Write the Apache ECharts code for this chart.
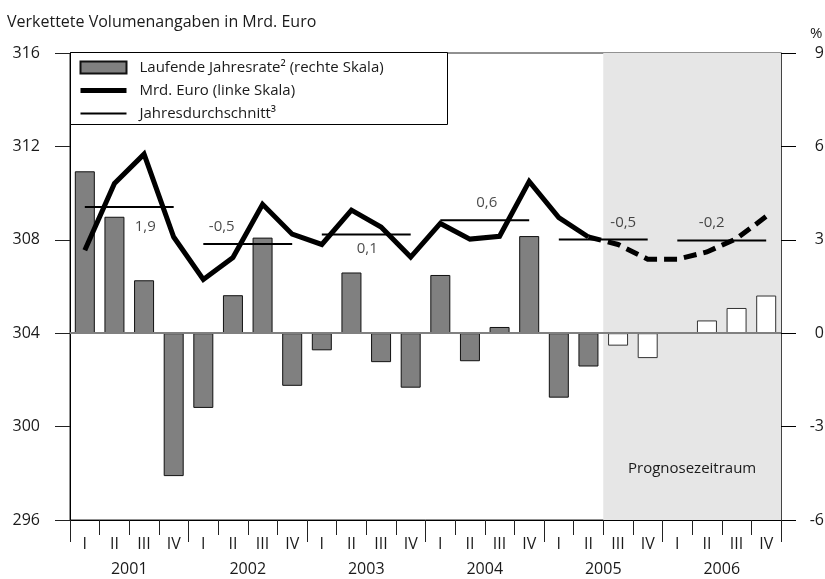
<!DOCTYPE html>
<html>
<head>
<meta charset="utf-8">
<script src="https://cdn.jsdelivr.net/npm/echarts@6/dist/echarts.min.js"></script>
<style>
  html, body { margin: 0; padding: 0; background: #fff; overflow: hidden; }
  #chart { width: 825px; height: 579px; }
</style>
</head>
<body>
<div id="chart"></div>
<script>
  // Daten
  const years = ['2001', '2002', '2003', '2004', '2005', '2006'];
  const quarters = ['I', 'II', 'III', 'IV'];
  // Laufende Jahresrate in % (rechte Skala), ab 2005 III Prognose
  const rate = [5.2, 3.74, 1.70, -4.59, -2.40, 1.22, 3.07, -1.69, -0.55, 1.95, -0.93, -1.75,
                1.87, -0.90, 0.20, 3.12, -2.07, -1.07, -0.40, -0.80, null, 0.41, 0.81, 1.21];
  // Mrd. Euro (linke Skala)
  const euro = [307.55, 310.41, 311.67, 308.12, 306.30, 307.24, 309.52, 308.24, 307.80, 309.27, 308.55, 307.26,
                308.70, 308.03, 308.15, 310.50, 308.95, 308.12, 307.80, 307.17, 307.17, 307.48, 308.05, 309.00];
  // Jahresdurchschnitt (Niveau, linke Skala) und Jahresrate als Beschriftung
  const yearAvg = [309.41, 307.82, 308.23, 308.84, 308.01, 307.97];
  const yearAvgText = ['1,9', '-0,5', '0,1', '0,6', '-0,5', '-0,2'];
  const forecastStart = 18; // 2005 III
  const leftTicks = { min: 296, max: 316, interval: 4 };
  const rightTicks = { min: -6, max: 9, interval: 3 };

  // Lage der Beschriftungen der Jahresdurchschnitte (px relativ zur Linienmitte)
  const avgLabelOffset = [[16, 20], [-26, -17], [1, 14], [2, -17], [20, -17], [-10, -18]];

  const categories = [];
  years.forEach(y => quarters.forEach(q => categories.push(q)));

  const FONT = 'Open Sans';
  const TXT = '#1a1a1a';

  const avgSegments = [];
  yearAvg.forEach((v, i) => {
    avgSegments.push([i * 4 + 0.5, v], [i * 4 + 3.5, v], [i * 4 + 4, '-']);
  });

  const myChart = echarts.init(document.getElementById('chart'));
  const option = {
    animation: false,
    textStyle: { fontFamily: FONT },
    title: {
      text: 'Verkettete Volumenangaben in Mrd. Euro',
      left: 2, top: 9,
      textStyle: { fontFamily: FONT, fontSize: 16, fontWeight: 'normal', color: TXT }
    },
    graphic: [
      {
        type: 'rect', z: 10,
        shape: { x: 70.5, y: 52.5, width: 377, height: 72 },
        style: { fill: '#fff', stroke: '#000', lineWidth: 1 }
      },
      {
        type: 'text', left: 810, top: 26, z: 10,
        style: { text: '%', fontFamily: FONT, fontSize: 15, fill: TXT }
      }
    ],
    legend: {
      orient: 'vertical',
      left: 73, top: 55, z: 20,
      itemWidth: 46, itemHeight: 12, itemGap: 8,
      data: [
        { name: 'Laufende Jahresrate² (rechte Skala)', icon: 'rect' },
        { name: 'Mrd. Euro (linke Skala)', itemStyle: { opacity: 0 }, lineStyle: { width: 5, color: '#000' } },
        { name: 'Jahresdurchschnitt³', itemStyle: { opacity: 0 }, lineStyle: { width: 2, color: '#000' } }
      ],
      textStyle: { fontFamily: FONT, fontSize: 15, color: TXT, padding: [0, 0, 0, 8] }
    },
    grid: {
      left: 70, right: 44, top: 53, bottom: 59,
      containLabel: false, outerBoundsMode: 'none',
      show: true, borderColor: '#222', borderWidth: 1, backgroundColor: 'transparent'
    },
    xAxis: [
      {
        type: 'category', data: categories, position: 'bottom',
        axisLine: { onZero: false, lineStyle: { color: '#000', width: 1 } },
        axisTick: { show: true, length: 15, lineStyle: { color: '#222' } },
        axisLabel: { margin: 16, fontSize: 16, color: TXT, fontFamily: FONT, interval: 0 }
      },
      { type: 'value', min: 0, max: 24, show: false, axisLine: { onZero: false } },
      {
        type: 'category', data: years, position: 'bottom',
        axisLine: { show: false, onZero: false },
        axisTick: { show: true, length: 22, lineStyle: { color: '#222' } },
        axisLabel: { margin: 41, fontSize: 16, color: TXT, fontFamily: FONT }
      }
    ],
    yAxis: [
      {
        type: 'value', position: 'left',
        min: leftTicks.min, max: leftTicks.max, interval: leftTicks.interval,
        splitLine: { show: false },
        axisLine: { show: true, onZero: false, lineStyle: { color: '#000' } },
        axisTick: { show: true, length: 15, lineStyle: { color: '#222' } },
        axisLabel: { margin: 30, fontSize: 16, color: TXT, fontFamily: FONT }
      },
      {
        type: 'value', position: 'right',
        min: rightTicks.min, max: rightTicks.max, interval: rightTicks.interval,
        splitLine: { show: false },
        axisLine: { show: true, onZero: false, lineStyle: { color: '#444' } },
        axisTick: { show: true, length: 15, lineStyle: { color: '#000' } },
        axisLabel: { margin: 43, align: 'right', fontSize: 16, color: TXT, fontFamily: FONT }
      }
    ],
    series: [
      {
        name: 'Prognosezeitraum', type: 'line', xAxisIndex: 1, yAxisIndex: 0,
        data: [], z: 1, silent: true,
        markArea: {
          silent: true,
          itemStyle: { color: '#e6e6e6' },
          label: {
            show: true, position: 'insideBottom', distance: 44,
            fontFamily: FONT, fontSize: 15, color: TXT
          },
          data: [[{ name: 'Prognosezeitraum', xAxis: forecastStart }, { xAxis: 24 }]]
        }
      },
      {
        name: 'Laufende Jahresrate² (rechte Skala)', type: 'bar',
        xAxisIndex: 0, yAxisIndex: 1, barWidth: 20, barGap: '-100%',
        data: rate.map((v, i) => i < forecastStart ? v : null),
        itemStyle: { color: '#808080', borderColor: '#111', borderWidth: 1 },
        markLine: {
          silent: true, symbol: 'none',
          label: { show: false },
          lineStyle: { color: '#808080', width: 2, type: 'solid' },
          data: [{ yAxis: 0 }]
        }
      },
      {
        name: 'Prognose Jahresrate', type: 'bar',
        xAxisIndex: 0, yAxisIndex: 1, barWidth: 20, barGap: '-100%',
        data: rate.map((v, i) => i >= forecastStart ? v : null),
        itemStyle: { color: '#fff', borderColor: '#333', borderWidth: 1 }
      },
      {
        name: 'Mrd. Euro (linke Skala)', type: 'line',
        xAxisIndex: 0, yAxisIndex: 0, symbol: 'none', z: 5,
        data: euro.map((v, i) => i < forecastStart ? v : null),
        lineStyle: { color: '#000', width: 5, join: 'miter' },
        itemStyle: { color: '#000' }
      },
      {
        name: 'Mrd. Euro Prognose', type: 'line',
        xAxisIndex: 0, yAxisIndex: 0, symbol: 'none', z: 5,
        data: euro.map((v, i) => i >= forecastStart - 1 ? v : null),
        lineStyle: { color: '#000', width: 5, type: [13, 7], join: 'miter' }
      },
      {
        name: 'Jahresdurchschnitt³', type: 'line',
        xAxisIndex: 1, yAxisIndex: 0, symbol: 'none', z: 4,
        data: avgSegments,
        lineStyle: { color: '#000', width: 2 },
        itemStyle: { color: '#000' }
      },
      {
        name: 'Jahresrate Text', type: 'scatter',
        xAxisIndex: 1, yAxisIndex: 0, symbolSize: 0, z: 6, silent: true,
        data: yearAvg.map((v, i) => ({
          value: [i * 4 + 2, v],
          label: {
            show: true, position: 'inside', offset: avgLabelOffset[i],
            formatter: yearAvgText[i],
            fontFamily: FONT, fontSize: 15, color: TXT
          }
        }))
      }
    ]
  };
  myChart.setOption(option);
  window.addEventListener('resize', () => { myChart.resize() });
</script>
</body>
</html>
